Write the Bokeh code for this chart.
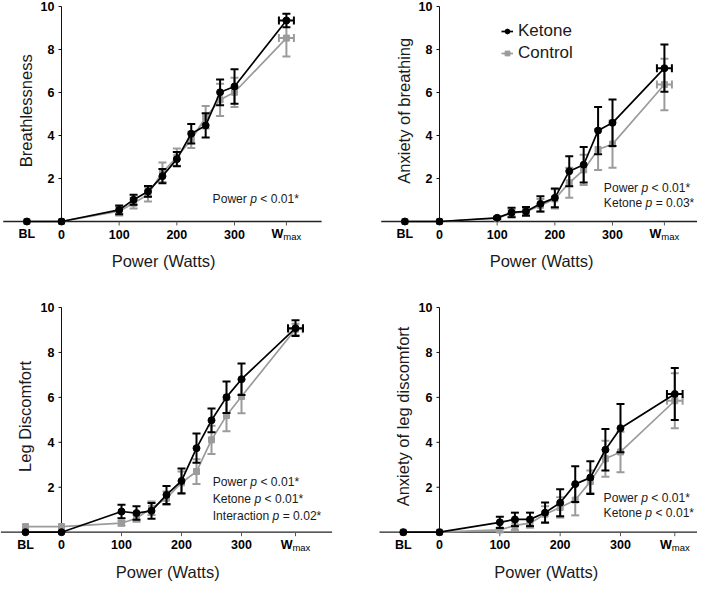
import math
from bokeh.plotting import figure
from bokeh.models import (ColumnDataSource, Label, LabelSet, Legend, LegendItem, Range1d)
from bokeh.core.properties import value
from bokeh.layouts import column, row
from bokeh.embed import file_html
from bokeh.resources import INLINE

FONT = "Liberation Sans"
KET_COLOR = "#000000"
CTL_COLOR = "#9b9b9b"
TXT = "#1a1a1a"

# ---------------- data ----------------
stage_labels = ["BL", "0", "100", "125", "150", "175", "200", "225", "250", "275", "300", "Wmax"]
stage_x = [-60, 0, 100, 125, 150, 175, 200, 225, 250, 275, 300, 390]
tick_x = [-60, 0, 100, 200, 300]
tick_text = ["BL", "0", "100", "200", "300"]
wmax_main, wmax_sub = "W", "max"
y_tick_values = [2, 4, 6, 8, 10]
y_tick_text = ["2", "4", "6", "8", "10"]

ket_breath = [0, 0, 0.54, 1.01, 1.40, 2.11, 2.90, 4.08, 4.47, 6.01, 6.28, 9.35]
ket_breath_sd = [0, 0, 0.20, 0.23, 0.25, 0.33, 0.33, 0.45, 0.56, 0.60, 0.80, 0.31]
ctl_breath = [0, 0, 0.48, 0.85, 1.26, 2.29, 2.99, 3.80, 4.85, 5.66, 6.01, 8.53]
ctl_breath_sd = [0, 0, 0.20, 0.25, 0.33, 0.45, 0.40, 0.38, 0.52, 0.75, 0.68, 0.85]

ket_anxb = [0, 0, 0.17, 0.42, 0.47, 0.82, 1.10, 2.34, 2.64, 4.23, 4.59, 7.13]
ket_anxb_sd = [0, 0, 0.05, 0.22, 0.20, 0.36, 0.44, 0.70, 0.83, 1.10, 1.08, 1.10]
ctl_anxb = [0, 0, 0.15, 0.40, 0.45, 0.75, 1.05, 1.80, 2.40, 3.35, 3.60, 6.37]
ctl_anxb_sd = [0, 0, 0.05, 0.15, 0.15, 0.30, 0.45, 0.70, 0.70, 0.95, 1.10, 1.20]

ket_leg = [0, 0, 0.92, 0.85, 0.95, 1.66, 2.28, 3.74, 4.98, 6.01, 6.81, 9.08]
ket_leg_sd = [0, 0, 0.30, 0.30, 0.35, 0.40, 0.55, 0.65, 0.53, 0.70, 0.70, 0.35]
ctl_leg = [0.25, 0.25, 0.40, 0.62, 1.07, 1.51, 2.20, 2.70, 4.11, 5.19, 6.04, 9.03]
ctl_leg_sd = [0, 0, 0.10, 0.15, 0.30, 0.30, 0.50, 0.55, 0.63, 0.70, 0.75, 0.25]

ket_anxl = [0, 0, 0.44, 0.57, 0.57, 0.87, 1.31, 2.14, 2.43, 3.67, 4.63, 6.15]
ket_anxl_sd = [0, 0, 0.25, 0.30, 0.30, 0.45, 0.60, 0.80, 0.73, 0.92, 1.07, 1.16]
ctl_anxl = [0, 0, 0.10, 0.30, 0.40, 0.80, 1.10, 1.43, 2.25, 3.27, 3.57, 5.85]
ctl_anxl_sd = [0, 0, 0.10, 0.20, 0.20, 0.35, 0.45, 0.68, 0.50, 0.80, 0.90, 1.22]

wmax_sd_ket = [13, 13, 12.5, 13]
wmax_sd_ctl = [13, 13, 12, 13]

ylabels = ["Breathlessness", "Anxiety of breathing", "Leg Discomfort", "Anxiety of leg discomfort"]
x_title = "Power (Watts)"

NB = "\u00a0"
stats_lines = [
    [("Power ", NB + "< 0.01*")],
    [("Power ", NB + "< 0.01*"), ("Ketone ", NB + "= 0.03*")],
    [("Power ", NB + "< 0.01*"), ("Ketone ", NB + "< 0.01*"), ("Interaction ", NB + "= 0.02*")],
    [("Power ", NB + "< 0.01*"), ("Ketone ", NB + "< 0.01*")],
]

# ---------------- geometry (pixels) ----------------
GEO = [
    dict(fw=379, fh=302, ax=61, kx=0.5767, y10=6, ky=21.5, sx=262, sy=[1.06]),
    dict(fw=318, fh=302, ax=60, kx=0.5767, y10=6, ky=21.5, sx=285, sy=[1.57, 0.87]),
    dict(fw=379, fh=279, ax=61, kx=0.600, y10=5, ky=22.47, sx=252, sy=[2.22, 1.48, 0.74]),
    dict(fw=318, fh=279, ax=60, kx=0.6033, y10=5, ky=22.47, sx=272, sy=[1.54, 0.84]),
]
AXIS_X_EXTENT = (-101, 451)
STAT_FS = 12.1

ARIAL = {"P": 667, "o": 556, "w": 722, "e": 556, "r": 333, " ": 278, "K": 667,
         "t": 278, "n": 556, "I": 278, "a": 556, "c": 500, "i": 222, "p": 556,
         "W": 944, "m": 833, "x": 500}


def text_w(s, size):
    return sum(ARIAL[c] for c in s) / 1000.0 * size


def add_series(p, means, sds, wsd, color, marker, size):
    line = p.line(stage_x, means, line_color=color, line_width=1.7)
    idx = [i for i, s in enumerate(sds) if s > 0]
    xs = [stage_x[i] for i in idx]
    lo = [means[i] - sds[i] for i in idx]
    hi = [means[i] + sds[i] for i in idx]
    p.segment(x0=xs, y0=lo, x1=xs, y1=hi, line_color=color, line_width=2)
    p.scatter(x=xs + xs, y=lo + hi, marker="dash", size=8, line_color=color, line_width=2)
    wx, wy = stage_x[-1], means[-1]
    p.segment(x0=[wx - wsd], y0=[wy], x1=[wx + wsd], y1=[wy], line_color=color, line_width=2)
    p.scatter(x=[wx - wsd, wx + wsd], y=[wy, wy], marker="dash", angle=math.pi / 2,
              size=8, line_color=color, line_width=2)
    m = p.scatter(stage_x, means, marker=marker, size=size, fill_color=color, line_color=color)
    return line, m


def make_panel(k, ket, ket_sd, ctl, ctl_sd):
    g = GEO[k]
    kx, ky = g["kx"], g["ky"]
    xr = (-g["ax"] / kx, (g["fw"] - g["ax"]) / kx)
    yr = (10 - (g["fh"] - g["y10"]) / ky, 10 + g["y10"] / ky)
    p = figure(width=g["fw"], height=g["fh"],
               x_range=Range1d(*xr), y_range=Range1d(*yr),
               output_backend="svg", toolbar_location=None,
               x_axis_location=None, y_axis_location=None,
               min_border=0, min_border_left=0, min_border_right=0,
               min_border_top=0, min_border_bottom=0,
               background_fill_color="white", border_fill_color="white")
    p.outline_line_color = None
    p.xgrid.visible = False
    p.ygrid.visible = False

    # x axis line, ticks, labels
    p.segment(x0=[AXIS_X_EXTENT[0]], y0=[0], x1=[AXIS_X_EXTENT[1]], y1=[0],
              line_color="#222222", line_width=1.3)
    tk = [t for t in tick_x if t > 0] + [stage_x[-1]]
    p.segment(x0=tk, y0=[0] * len(tk), x1=tk, y1=[-4.0 / ky] * len(tk),
              line_color="#555555", line_width=1)
    xsrc = ColumnDataSource(dict(x=tick_x, y=[-12.5 / ky] * len(tick_x), t=tick_text))
    p.add_layout(LabelSet(x="x", y="y", text="t", source=xsrc,
                          text_align="center", text_baseline="middle",
                          text_font=value(FONT), text_font_style="bold",
                          text_font_size="12.5px", text_color="#000000"))
    wsize, msize = 12.5, 9.5
    total = text_w(wmax_main, wsize) + text_w(wmax_sub, msize)
    p.add_layout(Label(x=stage_x[-1], y=-12.5 / ky, x_offset=-total / 2, text=wmax_main,
                       text_align="left", text_baseline="middle", text_font=FONT,
                       text_font_style="bold", text_font_size="12.5px", text_color="#000000"))
    p.add_layout(Label(x=stage_x[-1], y=-15.0 / ky,
                       x_offset=-total / 2 + text_w(wmax_main, wsize),
                       text=wmax_sub, text_align="left", text_baseline="middle",
                       text_font=FONT, text_font_size="9.5px", text_color="#000000"))
    p.add_layout(Label(x=177, y=-39.5 / ky, text=x_title, text_align="center",
                       text_baseline="middle", text_font=FONT,
                       text_font_size="16.5px", text_color=TXT))

    # y axis line, ticks, labels
    p.segment(x0=[0], y0=[0], x1=[0], y1=[10], line_color="#111111", line_width=1)
    p.segment(x0=[-3.0 / kx] * len(y_tick_values), y0=y_tick_values,
              x1=[0] * len(y_tick_values), y1=y_tick_values,
              line_color="#111111", line_width=1)
    ysrc = ColumnDataSource(dict(x=[0] * len(y_tick_values), y=y_tick_values, t=y_tick_text))
    p.add_layout(LabelSet(x="x", y="y", text="t", source=ysrc, x_offset=-7,
                          text_align="right", text_baseline="middle",
                          text_font=value(FONT), text_font_style="bold",
                          text_font_size="12.5px", text_color="#000000"))

    # y title
    p.add_layout(Label(x=-61, y=5.15, text=ylabels[k], angle=math.pi / 2,
                       text_align="center", text_baseline="middle", text_font=FONT,
                       text_font_size="16.5px", text_color=TXT))

    cl, cm = add_series(p, ctl, ctl_sd, wmax_sd_ctl[k], CTL_COLOR, "square", 6)
    kl, km = add_series(p, ket, ket_sd, wmax_sd_ket[k], KET_COLOR, "circle", 7)

    # stats text
    fs = STAT_FS
    fss = "%spx" % fs
    for (pre, post), yy in zip(stats_lines[k], g["sy"]):
        p.add_layout(Label(x=g["sx"], y=yy, text=pre, text_align="left", text_baseline="middle",
                           text_font=FONT, text_font_size=fss, text_color=TXT))
        off = text_w(pre, fs)
        p.add_layout(Label(x=g["sx"], y=yy, x_offset=off, text="p", text_align="left",
                           text_baseline="middle", text_font=FONT, text_font_style="italic",
                           text_font_size=fss, text_color=TXT))
        off += text_w("p", fs)
        p.add_layout(Label(x=g["sx"], y=yy, x_offset=off, text=post, text_align="left",
                           text_baseline="middle", text_font=FONT,
                           text_font_size=fss, text_color=TXT))

    if k == 1:
        leg = Legend(items=[LegendItem(label="Ketone", renderers=[kl, km]),
                            LegendItem(label="Control", renderers=[cl, cm])],
                     location=(122, g["fh"] - 63), padding=0, margin=0, spacing=2,
                     glyph_width=12, glyph_height=20, label_height=20, label_standoff=5,
                     label_text_font=FONT, label_text_font_size="17px",
                     label_text_color=TXT, border_line_color=None,
                     background_fill_alpha=0)
        p.add_layout(leg)
    return p


p1 = make_panel(0, ket_breath, ket_breath_sd, ctl_breath, ctl_breath_sd)
p2 = make_panel(1, ket_anxb, ket_anxb_sd, ctl_anxb, ctl_anxb_sd)
p3 = make_panel(2, ket_leg, ket_leg_sd, ctl_leg, ctl_leg_sd)
p4 = make_panel(3, ket_anxl, ket_anxl_sd, ctl_anxl, ctl_anxl_sd)

layout = column(row(p1, p2), row(p3, p4))
open("out.html", "w").write(file_html(layout, INLINE, title="Ketone vs Control"))
